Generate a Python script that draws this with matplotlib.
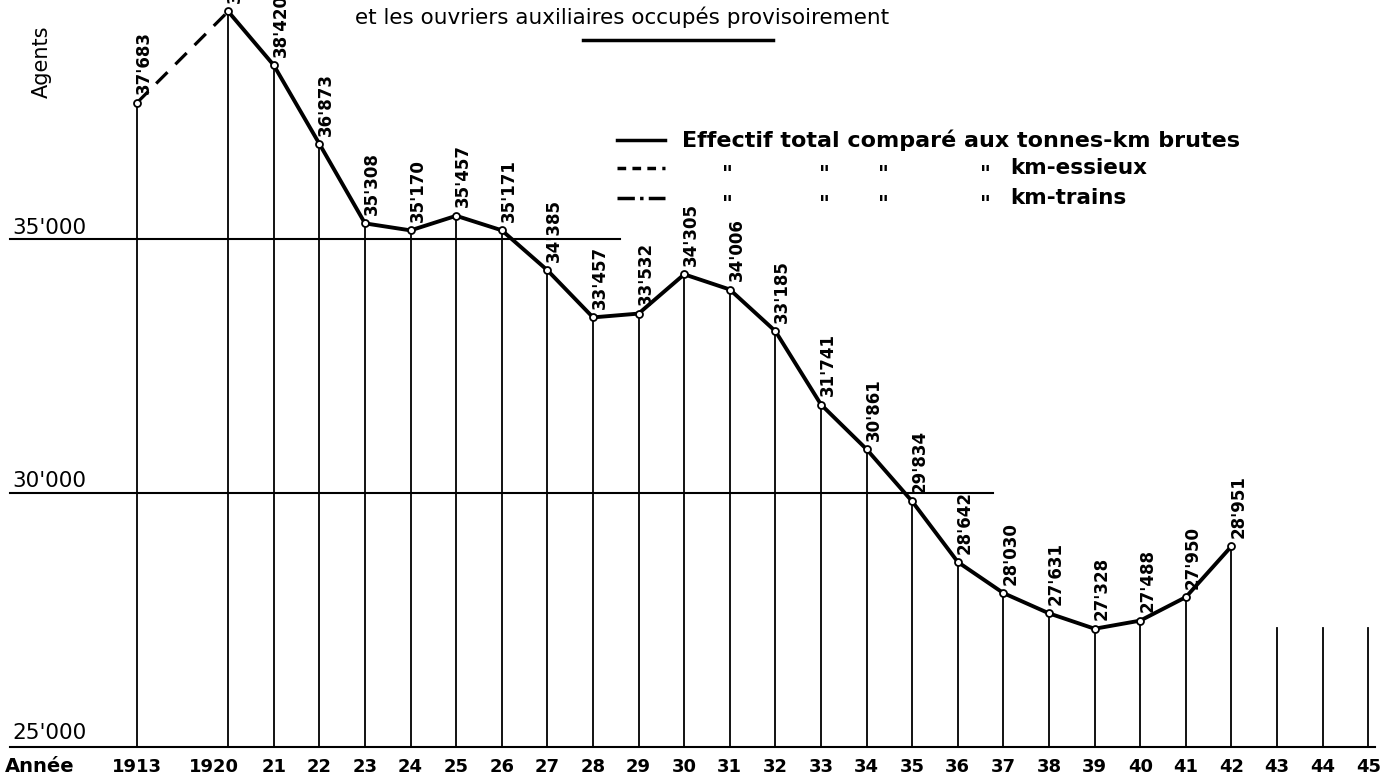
import matplotlib
matplotlib.use("Agg")
import matplotlib.pyplot as plt

# Data
years = [1913, 1920, 1921, 1922, 1923, 1924, 1925, 1926, 1927, 1928, 1929,
         1930, 1931, 1932, 1933, 1934, 1935, 1936, 1937, 1938, 1939, 1940,
         1941, 1942]
effectif = [37683, 39480, 38420, 36873, 35308, 35170, 35457, 35171, 34385,
            33457, 33532, 34305, 34006, 33185, 31741, 30861, 29834, 28642,
            28030, 27631, 27328, 27488, 27950, 28951]
empty_years = [1943, 1944, 1945]
year_labels = ["1913", "1920", "21", "22", "23", "24", "25", "26", "27", "28",
               "29", "30", "31", "32", "33", "34", "35", "36", "37", "38",
               "39", "40", "41", "42", "43", "44", "45"]
ref_levels = [35000, 30000, 25000]
ref_labels = ["35'000", "30'000", "25'000"]

W, H = 1381, 781
BASE = 25000
STUB_TOP = 27350


def xpos(year):
    # 1913 sits two steps left of 1920 on the drawing
    return 0 if year == 1913 else year - 1918


def fmt(v):
    return f"{v // 1000}'{v % 1000:03d}"


fig = plt.figure(figsize=(W / 100, H / 100), dpi=100)
ax = fig.add_axes([0, 0, 1, 1])
ax.set_xlim(-3.004, 27.28)
ax.set_ylim(24331, 39705)
ax.axis("off")

xs = [xpos(y) for y in years]

# horizontal reference lines
ref_ends = [10.59, 18.77, 27.15]
for lvl, end in zip(ref_levels, ref_ends):
    ax.plot([-2.785, end], [lvl, lvl], color="black", lw=1.5, zorder=1)

# vertical lines from each point down to the base
for x, v in zip(xs, effectif):
    ax.plot([x, x], [BASE, v], color="black", lw=1.3, zorder=1)
for y in empty_years:
    ax.plot([xpos(y), xpos(y)], [BASE, STUB_TOP], color="black", lw=1.3, zorder=1)

# 1913 -> 1920 dashed, the rest solid
ax.plot(xs[:2], effectif[:2], color="black", lw=2.3, dashes=(5, 3.5), zorder=2)
ax.plot(xs[1:], effectif[1:], color="black", lw=2.8, zorder=2)
ax.plot(xs, effectif, "o", ms=5, mfc="white", mec="black", mew=1.3, zorder=3)

# value labels (the 1920 one runs off the top, as in the scan)
for x, v in zip(xs, effectif):
    ax.annotate(fmt(v), (x, v), xytext=(5, 6), textcoords="offset points",
                rotation=90, ha="center", va="bottom", fontsize=12,
                fontweight="bold", clip_on=False)

# text in pixel positions
def ftext(px, py, s, **kw):
    fig.text(px / W, 1 - py / H, s, **kw)


# y-axis labels
ftext(12, 228, ref_labels[0], fontsize=15.5, ha="left", va="center")
ftext(12, 481, ref_labels[1], fontsize=15.5, ha="left", va="center")
ftext(12, 733, ref_labels[2], fontsize=15.5, ha="left", va="center")
ftext(42, 62, "Agents", fontsize=15, rotation=90, ha="center", va="center")

# x labels
ftext(5, 766, "Année", fontsize=14, fontweight="bold", ha="left", va="center")
all_years = years + empty_years
for y, lab in zip(all_years, year_labels):
    px = 137 + 45.6 * xpos(y)
    if lab == "1920":
        px -= 14
    ftext(px, 767, lab, fontsize=13, fontweight="bold", ha="center", va="center")

# title (the first line is cut off in the scan)
ftext(355, 17, "et les ouvriers auxiliaires occupés provisoirement",
      fontsize=15.5, ha="left", va="center")
fig.add_artist(plt.Line2D([583 / W, 773 / W], [1 - 40 / H, 1 - 40 / H],
                          color="black", lw=2.5))

# legend drawn by hand like the original
rows = [(140, "-", "Effectif total comparé aux tonnes-km brutes"),
        (168, (0, (2.5, 1.8)), "km-essieux"),
        (198, (0, (5, 1.5, 1, 1.5)), "km-trains")]
for i, (py, ls, lab) in enumerate(rows):
    fig.add_artist(plt.Line2D([617 / W, 665 / W], [1 - py / H, 1 - py / H],
                              color="black", lw=2.5, linestyle=ls))
    if i == 0:
        ftext(682, py, lab, fontsize=16, fontweight="bold", ha="left", va="center")
    else:
        for dx in [727, 824, 883, 985]:
            ftext(dx, py + 7, '"', fontsize=15, fontweight="bold",
                  ha="center", va="center")
        ftext(1010, py, lab, fontsize=15.5, fontweight="bold", ha="left", va="center")

fig.savefig("out.png", dpi=100, facecolor="white")
